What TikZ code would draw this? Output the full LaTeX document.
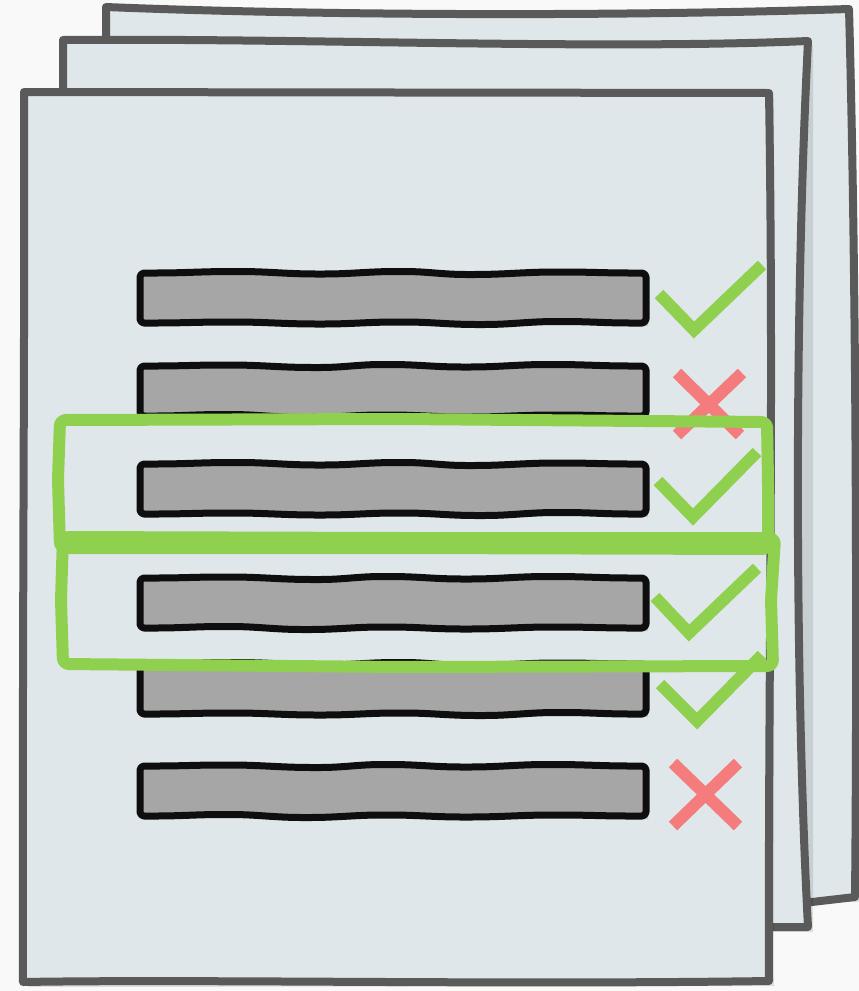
\documentclass[tikz,border=0pt]{standalone}
\definecolor{bgcol}{HTML}{F9F9F9}
\definecolor{pagefill}{HTML}{DFE7EA}
\definecolor{pagestroke}{HTML}{5A5A5A}
\definecolor{barfill}{HTML}{A6A6A6}
\definecolor{barstroke}{HTML}{0E0E0E}
\definecolor{okgreen}{HTML}{8FD14F}
\definecolor{badred}{HTML}{F47C7C}
\newcommand{\mybarpath}{(140,25) -- (140,0) -- (152,0) to[out=0,in=180] (235,-1.5) to[out=0,in=180] (320,1) to[out=0,in=180] (400,-1.5) to[out=0,in=180] (470,1.5) to[out=0,in=180] (560,-1) to[out=0,in=180] (634,0) -- (646,0) -- (646,50) -- (634,50) to[out=180,in=0] (560,48.5) to[out=180,in=0] (480,51.5) to[out=180,in=0] (400,49) to[out=180,in=0] (320,51) to[out=180,in=0] (230,49) to[out=180,in=0] (152,50) -- (140,50) -- cycle}
\newcommand{\sketchbar}[3]{%
  \begin{scope}[shift={(#2,#1)},xscale=#3]
    \fill[black,opacity=0.12,shift={(2*#3,3)}] \mybarpath;
    \path[barbox] \mybarpath;
  \end{scope}}
\begin{document}
\begin{tikzpicture}[x=1pt,y=-1pt,
  page/.style={draw=pagestroke,line width=8pt,fill=pagefill,line join=round},
  pageshadow/.style={fill=black,opacity=0.10},
  barbox/.style={draw=barstroke,line width=7pt,fill=barfill,line join=round,rounded corners=4pt},
  checkmark/.style={draw=okgreen,line width=12pt,line join=miter},
  crossmark/.style={draw=badred,line width=12pt},
  greenbox/.style={draw=okgreen,line width=12pt,line join=round,rounded corners=6pt}]
\fill[bgcol] (0,0) rectangle (859,991);
\useasboundingbox (0,0) rectangle (859,991);
% back page
\fill[pageshadow] (110,12) -- (853,14) -- (860,902) -- (110,910) -- cycle;
\path[page] (106,7) .. controls (300,15) and (600,17) .. (849,9) .. controls (857,300) and (857,700) .. (855,897) -- (812,902) -- (106,905) -- cycle;
% middle page
\fill[pageshadow] (67,45) -- (813,46) -- (813,932) -- (67,932) -- cycle;
\path[page] (63,40) .. controls (300,38) and (600,50) .. (808,41) .. controls (794,320) and (795,680) .. (808,927) -- (773,927) -- (63,927) -- cycle;
% front page
\fill[pageshadow] (28,97) -- (774,98) -- (774,986) -- (28,987) -- cycle;
\path[page] (24,92) -- (769,93) .. controls (774,400) and (768,700) .. (769,981) .. controls (500,985) and (200,979) .. (23,982) .. controls (22,700) and (25,300) .. (24,92) -- cycle;
% bars
\sketchbar{273}{0}{1}
\sketchbar{366}{786}{-1}
\sketchbar{464}{0}{1}
\sketchbar{578}{786}{-1}
\sketchbar{664}{0}{1}
\sketchbar{766}{786}{-1}
% marks
\draw[checkmark] (659,294) -- (694,330) -- (762,265);
\draw[crossmark] (677,373) -- (740,435) (742,373) -- (677,435);
\draw[checkmark] (658,481) -- (693,517) -- (757,452);
\draw[checkmark] (655,597) -- (689,633) -- (757,568);
\draw[checkmark] (660,684) -- (697,721) -- (762,655);
\draw[crossmark] (673,763) -- (738,826) (738,763) -- (673,826);
% green selection boxes
\draw[greenbox] (63,537) -- (400,538) -- (775,538) -- (771,600) -- (773,666) -- (400,667) -- (63,664) -- (61,600) -- cycle;
\draw[greenbox] (60,420) -- (400,419) -- (767,422) -- (768,480) -- (768,549) -- (400,548) -- (60,548) -- (58,480) -- cycle;
\end{tikzpicture}
\end{document}
